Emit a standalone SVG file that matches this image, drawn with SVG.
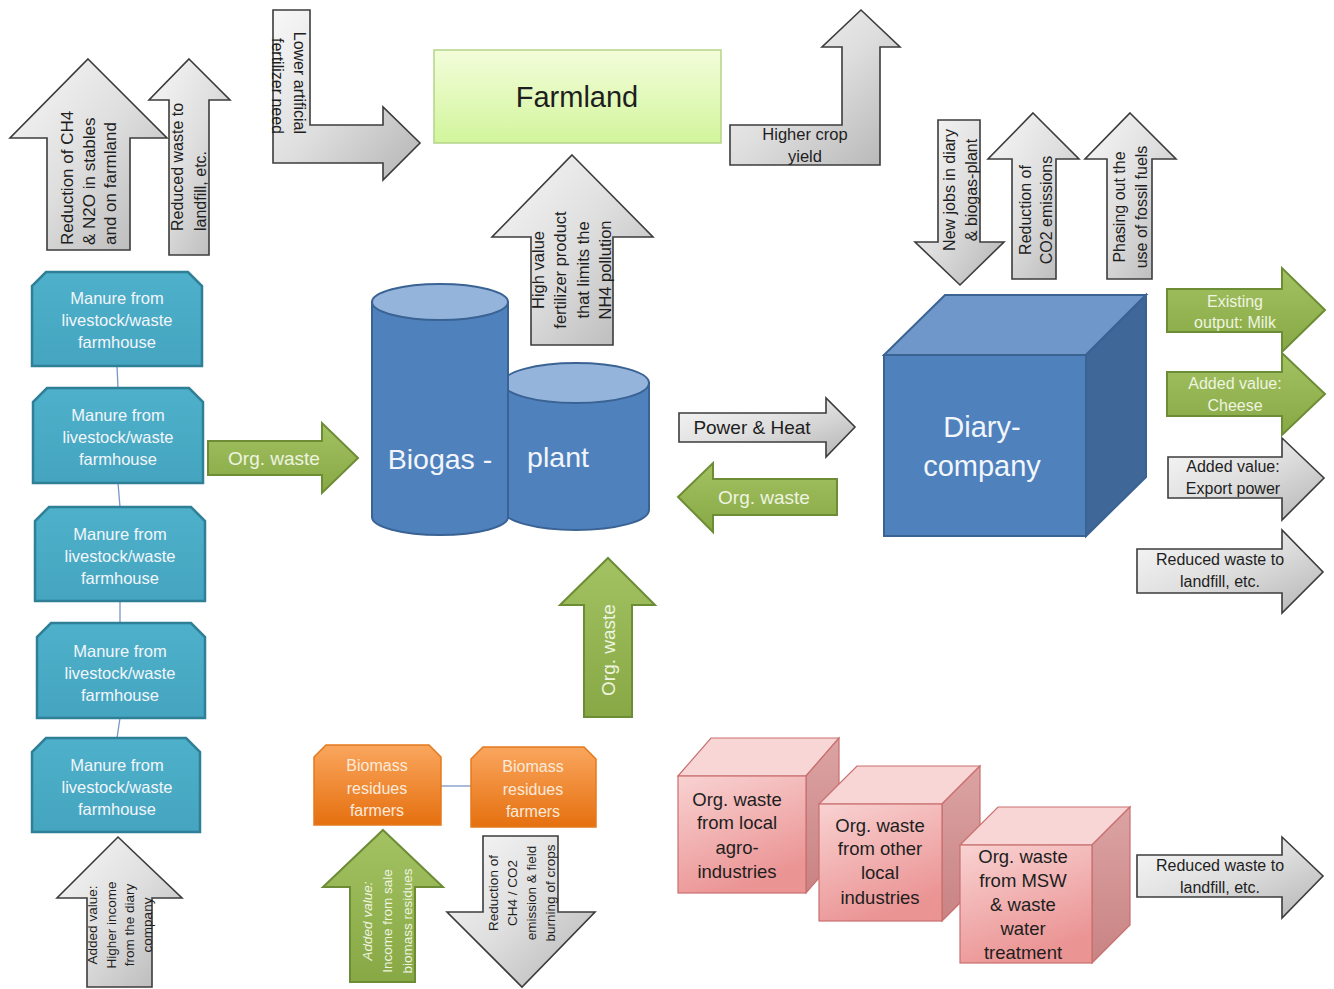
<svg xmlns="http://www.w3.org/2000/svg" width="1334" height="989" viewBox="0 0 1334 989">
<defs>
<linearGradient id="gGray" x1="0" y1="0" x2="1" y2="1">
<stop offset="0" stop-color="#f8f8f8"/><stop offset="0.5" stop-color="#dedede"/><stop offset="1" stop-color="#b4b4b4"/>
</linearGradient>
<linearGradient id="gGreen" x1="0" y1="0" x2="0" y2="1">
<stop offset="0" stop-color="#a3c262"/><stop offset="1" stop-color="#87a845"/>
</linearGradient>
<linearGradient id="gOrange" x1="0" y1="0" x2="0" y2="1">
<stop offset="0" stop-color="#faa65e"/><stop offset="1" stop-color="#e5700f"/>
</linearGradient>
<linearGradient id="gFarm" x1="0" y1="0" x2="0" y2="1">
<stop offset="0" stop-color="#f3fdda"/><stop offset="1" stop-color="#d2f59c"/>
</linearGradient>
<linearGradient id="gPinkF" x1="0" y1="0" x2="0.4" y2="1">
<stop offset="0" stop-color="#f9d2d2"/><stop offset="1" stop-color="#eb9494"/>
</linearGradient>
<linearGradient id="gPinkR" x1="0" y1="0" x2="0" y2="1">
<stop offset="0" stop-color="#dca3a3"/><stop offset="1" stop-color="#c98383"/>
</linearGradient>
<linearGradient id="gTeal" x1="0" y1="0" x2="0" y2="1">
<stop offset="0" stop-color="#4eb0ca"/><stop offset="1" stop-color="#45a5c0"/>
</linearGradient>
</defs>
<style>
.gray{fill:url(#gGray);stroke:#3c3c3c;stroke-width:1.6}
.green{fill:url(#gGreen);stroke:#6c8c36;stroke-width:2}
.teal{fill:url(#gTeal);stroke:#2f7f96;stroke-width:2.5}
.orange{fill:url(#gOrange);stroke:#e3791c;stroke-width:1.5}
.blue{fill:#4f81bd;stroke:#3a6394;stroke-width:2}
.cyltop{fill:#94b4db;stroke:#3a6394;stroke-width:2}
.ctop{fill:#6f97c9;stroke:#3a6394;stroke-width:2}
.cright{fill:#3f6898;stroke:#3a6394;stroke-width:2}
.pf{fill:url(#gPinkF);stroke:#c96f6f;stroke-width:1.2}
.pt{fill:#f8d6d6;stroke:#c96f6f;stroke-width:1.2}
.pr{fill:url(#gPinkR);stroke:#c96f6f;stroke-width:1.2}
.conn{stroke:#7a96c4;stroke-width:1.3;fill:none}
text{font-family:"Liberation Sans",Arial,sans-serif}
.dk{fill:#1e1e1e}
.wt{fill:#f2f6fb}
.lg{fill:#eef4e0}
.lo{fill:#fdeadb}
.c{text-anchor:middle}
</style>

<g id="connectors">
<line class="conn" x1="117" y1="366" x2="118" y2="388"/>
<line class="conn" x1="118" y1="483" x2="120" y2="507"/>
<line class="conn" x1="120" y1="601" x2="120" y2="623"/>
<line class="conn" x1="120" y1="718" x2="117" y2="738"/>
<line class="conn" x1="441" y1="786" x2="471" y2="786"/>
</g>

<g id="farmland">
<rect x="434" y="50" width="287" height="93" fill="url(#gFarm)" stroke="#b5d389" stroke-width="1.5"/>
<text class="dk c" x="577" y="107" font-size="29">Farmland</text>
</g>

<g id="arrow-ch4">
<path class="gray" d="M88,59 L167,138 L130,138 L130,250 L47,250 L47,138 L10,138 Z"/>
<text class="dk" font-size="17" transform="translate(73,245) rotate(-90)"><tspan x="0" y="0">Reduction of CH4</tspan><tspan x="0" y="21.5">&amp; N2O in stables</tspan><tspan x="0" y="43">and on farmland</tspan></text>
</g>

<g id="arrow-waste-top">
<path class="gray" d="M189,59 L230,100 L209,100 L209,255 L169,255 L169,100 L149,100 Z"/>
<text class="dk" font-size="16" transform="translate(183,231) rotate(-90)"><tspan x="0" y="0">Reduced waste to</tspan><tspan x="0" y="23">landfill, etc.</tspan></text>
</g>

<g id="arrow-fertilizer">
<path class="gray" d="M273,10 L310,10 L310,125 L383,125 L383,107 L420,143 L383,180 L383,163 L273,163 Z"/>
<text class="dk" font-size="16" text-anchor="end" transform="translate(294,134) rotate(90)"><tspan x="0" y="0">Lower artificial</tspan><tspan x="0" y="22">fertilizer need</tspan></text>
</g>

<g id="arrow-crop">
<path class="gray" d="M730,125 L842,125 L842,47 L822,47 L861,10 L900,47 L880,47 L880,165 L730,165 Z"/>
<text class="dk c" font-size="16.5" x="805" y="140">Higher crop</text>
<text class="dk c" font-size="16.5" x="805" y="162">yield</text>
</g>

<g id="arrow-highvalue">
<path class="gray" d="M572,155 L653,237 L613,237 L613,345 L531,345 L531,237 L492,237 Z"/>
<text class="dk c" font-size="16.5" transform="translate(544,270) rotate(-90)"><tspan x="0" y="0">High value</tspan><tspan x="0" y="22.3">fertilizer product</tspan><tspan x="0" y="44.6">that limits the</tspan><tspan x="0" y="67">NH4 pollution</tspan></text>
</g>

<g id="arrow-jobs">
<path class="gray" d="M938,120 L980,120 L980,242 L1004,242 L960,285 L915,242 L938,242 Z"/>
<text class="dk c" font-size="16" transform="translate(955,190) rotate(-90)"><tspan x="0" y="0">New jobs in diary</tspan><tspan x="0" y="21.5">&amp; biogas-plant</tspan></text>
</g>

<g id="arrow-co2">
<path class="gray" d="M1033,113 L1079,159 L1056,159 L1056,279 L1012,279 L1012,159 L988,159 Z"/>
<text class="dk c" font-size="16" transform="translate(1031,210) rotate(-90)"><tspan x="0" y="0">Reduction of</tspan><tspan x="0" y="21">CO2 emissions</tspan></text>
</g>

<g id="arrow-fossil">
<path class="gray" d="M1130,113 L1176,159 L1152,159 L1152,279 L1107,279 L1107,159 L1085,159 Z"/>
<text class="dk c" font-size="16" transform="translate(1125,207) rotate(-90)"><tspan x="0" y="0">Phasing out the</tspan><tspan x="0" y="21.5">use of fossil fuels</tspan></text>
</g>

<g id="manure-1">
<path class="teal" d="M46,272 L188,272 L202,286 L202,366 L32,366 L32,286 Z"/>
<text class="wt c" font-size="16.5" x="117"><tspan x="117" y="304">Manure from</tspan><tspan x="117" y="326">livestock/waste</tspan><tspan x="117" y="348">farmhouse</tspan></text>
</g>
<g id="manure-2">
<path class="teal" d="M47,388 L189,388 L203,402 L203,483 L33,483 L33,402 Z"/>
<text class="wt c" font-size="16.5"><tspan x="118" y="421">Manure from</tspan><tspan x="118" y="443">livestock/waste</tspan><tspan x="118" y="465">farmhouse</tspan></text>
</g>
<g id="manure-3">
<path class="teal" d="M49,507 L191,507 L205,521 L205,601 L35,601 L35,521 Z"/>
<text class="wt c" font-size="16.5"><tspan x="120" y="540">Manure from</tspan><tspan x="120" y="562">livestock/waste</tspan><tspan x="120" y="584">farmhouse</tspan></text>
</g>
<g id="manure-4">
<path class="teal" d="M51,623 L191,623 L205,637 L205,718 L37,718 L37,637 Z"/>
<text class="wt c" font-size="16.5"><tspan x="120" y="657">Manure from</tspan><tspan x="120" y="679">livestock/waste</tspan><tspan x="120" y="701">farmhouse</tspan></text>
</g>
<g id="manure-5">
<path class="teal" d="M46,738 L186,738 L200,752 L200,832 L32,832 L32,752 Z"/>
<text class="wt c" font-size="16.5"><tspan x="117" y="771">Manure from</tspan><tspan x="117" y="793">livestock/waste</tspan><tspan x="117" y="815">farmhouse</tspan></text>
</g>

<g id="arrow-orgwaste-left">
<path class="green" d="M208,441 L322,441 L322,423 L358,458 L322,493 L322,475 L208,475 Z"/>
<text class="lg c" font-size="19" x="274" y="465">Org. waste</text>
</g>

<g id="biogas-plant">
<path class="blue" d="M503,383 L503,510 A73,20 0 0 0 649,510 L649,383 Z"/>
<ellipse class="cyltop" cx="576" cy="383" rx="73" ry="20"/>
<path class="blue" d="M372,302 L372,517 A68,18 0 0 0 508,517 L508,302 Z"/>
<ellipse class="cyltop" cx="440" cy="302" rx="68" ry="18"/>
<text class="wt c" font-size="28.5" x="440" y="469">Biogas -</text>
<text class="wt c" font-size="28.5" x="558" y="467">plant</text>
</g>

<g id="arrow-power">
<path class="gray" d="M679,413 L826,413 L826,398 L855,427 L826,457 L826,442 L679,442 Z"/>
<text class="dk c" font-size="19" x="752" y="434">Power &amp; Heat</text>
</g>

<g id="arrow-orgwaste-right">
<path class="green" d="M678,497 L713,463 L713,479 L837,479 L837,515 L713,515 L713,532 Z"/>
<text class="lg c" font-size="19" x="764" y="504">Org. waste</text>
</g>

<g id="arrow-orgwaste-up">
<path class="green" d="M608,558 L655,605 L632,605 L632,717 L584,717 L584,605 L560,605 Z"/>
<text class="lg c" font-size="19" transform="translate(615,650) rotate(-90)">Org. waste</text>
</g>

<g id="diary-company">
<rect class="blue" x="884" y="355" width="202" height="181"/>
<path class="ctop" d="M884,355 L945,295 L1146,295 L1086,355 Z"/>
<path class="cright" d="M1086,355 L1146,295 L1146,477 L1086,536 Z"/>
<text class="wt c" font-size="29" x="982" y="437">Diary-</text>
<text class="wt c" font-size="29" x="982" y="476">company</text>
</g>

<g id="arrow-milk">
<path class="green" d="M1167,289 L1282,289 L1282,268 L1325,310 L1282,352 L1282,332 L1167,332 Z"/>
<text class="lg c" font-size="16" x="1235" y="307">Existing</text>
<text class="lg c" font-size="16" x="1235" y="328">output: Milk</text>
</g>
<g id="arrow-cheese">
<path class="green" d="M1167,372 L1282,372 L1282,353 L1325,394 L1282,435 L1282,416 L1167,416 Z"/>
<text class="lg c" font-size="16" x="1235" y="389">Added value:</text>
<text class="lg c" font-size="16" x="1235" y="411">Cheese</text>
</g>
<g id="arrow-export">
<path class="gray" d="M1168,457 L1282,457 L1282,438 L1324,478 L1282,520 L1282,498 L1168,498 Z"/>
<text class="dk c" font-size="16" x="1233" y="472">Added value:</text>
<text class="dk c" font-size="16" x="1233" y="494">Export power</text>
</g>
<g id="arrow-reduced-1">
<path class="gray" d="M1137,549 L1282,549 L1282,530 L1323,572 L1282,613 L1282,593 L1137,593 Z"/>
<text class="dk c" font-size="16" x="1220" y="565">Reduced waste to</text>
<text class="dk c" font-size="16" x="1220" y="587">landfill, etc.</text>
</g>

<g id="biomass-1">
<path class="orange" d="M326,745 L429,745 L441,757 L441,825 L314,825 L314,757 Z"/>
<text class="lo c" font-size="16"><tspan x="377" y="771">Biomass</tspan><tspan x="377" y="794">residues</tspan><tspan x="377" y="816">farmers</tspan></text>
</g>
<g id="biomass-2">
<path class="orange" d="M483,747 L584,747 L596,759 L596,827 L471,827 L471,759 Z"/>
<text class="lo c" font-size="16"><tspan x="533" y="772">Biomass</tspan><tspan x="533" y="795">residues</tspan><tspan x="533" y="817">farmers</tspan></text>
</g>

<g id="arrow-income">
<path class="gray" d="M118,837 L182,898 L152,898 L152,987 L87,987 L87,898 L57,898 Z"/>
<text class="dk c" font-size="13.5" transform="translate(97,925) rotate(-90)"><tspan x="0" y="0">Added value:</tspan><tspan x="0" y="18.5">Higher income</tspan><tspan x="0" y="37">from the diary</tspan><tspan x="0" y="55">company</tspan></text>
</g>

<g id="arrow-biomass-income">
<path class="green" d="M383,830 L443,887 L415,887 L415,982 L350,982 L350,887 L323,887 Z"/>
<text class="lg c" font-size="13.5" transform="translate(372,921) rotate(-90)"><tspan x="0" y="0" font-style="italic">Added value:</tspan><tspan x="0" y="20">Income from sale</tspan><tspan x="0" y="39.5">biomass residues</tspan></text>
</g>

<g id="arrow-biomass-reduction">
<path class="gray" d="M483,836 L558,836 L558,912 L595,912 L522,987 L447,912 L483,912 Z"/>
<text class="dk c" font-size="13.5" transform="translate(498,893) rotate(-90)"><tspan x="0" y="0">Reduction of</tspan><tspan x="0" y="19">CH4 / CO2</tspan><tspan x="0" y="38">emission &amp; field</tspan><tspan x="0" y="57">burning of crops</tspan></text>
</g>

<g id="cube-agro">
<path class="pt" d="M678,776 L711,738 L839,738 L806,776 Z"/>
<path class="pr" d="M806,776 L839,738 L839,855 L806,893 Z"/>
<rect class="pf" x="678" y="776" width="128" height="117"/>
<text class="dk c" font-size="18.5"><tspan x="737" y="806">Org. waste</tspan><tspan x="737" y="829">from local</tspan><tspan x="737" y="854">agro-</tspan><tspan x="737" y="878">industries</tspan></text>
</g>
<g id="cube-other">
<path class="pt" d="M819,804 L857,766 L980,766 L942,804 Z"/>
<path class="pr" d="M942,804 L980,766 L980,883 L942,921 Z"/>
<rect class="pf" x="819" y="804" width="123" height="117"/>
<text class="dk c" font-size="18.5"><tspan x="880" y="832">Org. waste</tspan><tspan x="880" y="855">from other</tspan><tspan x="880" y="879">local</tspan><tspan x="880" y="904">industries</tspan></text>
</g>
<g id="cube-msw">
<path class="pt" d="M960,845 L998,807 L1130,807 L1092,845 Z"/>
<path class="pr" d="M1092,845 L1130,807 L1130,925 L1092,963 Z"/>
<rect class="pf" x="960" y="845" width="132" height="118"/>
<text class="dk c" font-size="18.5"><tspan x="1023" y="863">Org. waste</tspan><tspan x="1023" y="887">from MSW</tspan><tspan x="1023" y="911">&amp; waste</tspan><tspan x="1023" y="935">water</tspan><tspan x="1023" y="959">treatment</tspan></text>
</g>

<g id="arrow-reduced-2">
<path class="gray" d="M1137,855 L1282,855 L1282,837 L1323,876 L1282,918 L1282,897 L1137,897 Z"/>
<text class="dk c" font-size="16" x="1220" y="871">Reduced waste to</text>
<text class="dk c" font-size="16" x="1220" y="893">landfill, etc.</text>
</g>
</svg>
